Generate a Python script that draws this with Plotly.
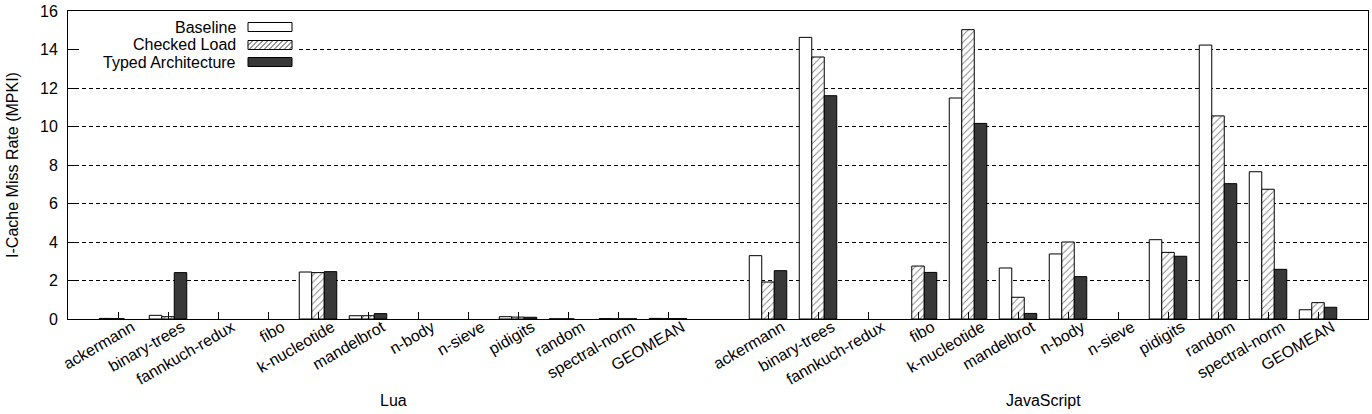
import plotly.graph_objects as go

benchmarks = ["ackermann", "binary-trees", "fannkuch-redux", "fibo", "k-nucleotide",
              "mandelbrot", "n-body", "n-sieve", "pidigits", "random", "spectral-norm", "GEOMEAN"]
groups = ["Lua", "JavaScript"]
series_names = ["Baseline", "Checked Load", "Typed Architecture"]

lua_baseline = [0.03, 0.19, 0.0, 0.0, 2.44, 0.17, 0.0, 0.0, 0.12, 0.01, 0.02, 0.03]
lua_checked = [0.02, 0.12, 0.0, 0.0, 2.41, 0.17, 0.0, 0.0, 0.10, 0.01, 0.01, 0.02]
lua_typed = [0.0, 2.41, 0.0, 0.0, 2.46, 0.28, 0.0, 0.0, 0.09, 0.0, 0.01, 0.02]

js_baseline = [3.29, 14.63, 0.0, 0.0, 11.48, 2.65, 3.38, 0.0, 4.12, 14.23, 7.65, 0.48]
js_checked = [1.92, 13.61, 0.0, 2.75, 15.03, 1.13, 4.00, 0.0, 3.46, 10.55, 6.74, 0.85]
js_typed = [2.51, 11.60, 0.0, 2.42, 10.16, 0.29, 2.20, 0.0, 3.26, 7.03, 2.58, 0.61]

y_ticks = [0, 2, 4, 6, 8, 10, 12, 14, 16]

# layout constants
FONT = "Liberation Sans, Arial, sans-serif"
FS = 16
W, H = 1372, 414
ML, MR, MT, MB = 68, 4, 11, 95
PW, PH = W - ML - MR, H - MT - MB

n = len(benchmarks)
lua_pos = [i + 1 for i in range(n)]
js_pos = [i + n + 2 for i in range(n)]
positions = lua_pos + js_pos
tick_text = benchmarks + benchmarks

values = {
    "Baseline": lua_baseline + js_baseline,
    "Checked Load": lua_checked + js_checked,
    "Typed Architecture": lua_typed + js_typed,
}
styles = {
    "Baseline": dict(color="white", line=dict(color="black", width=1)),
    "Checked Load": dict(color="white", line=dict(color="black", width=1),
                         pattern=dict(shape="/", fgcolor="black", bgcolor="white",
                                      size=5, solidity=0.18)),
    "Typed Architecture": dict(color="#383838", line=dict(color="black", width=1)),
}

fig = go.Figure()
for name in series_names:
    # zero-valued bars are not drawn at all (no outline on the axis)
    ys = [v if v > 0 else None for v in values[name]]
    fig.add_trace(go.Bar(x=positions, y=ys, name=name,
                         marker=styles[name], showlegend=False))

fig.update_layout(
    width=W, height=H,
    margin=dict(l=ML, r=MR, t=MT, b=MB, pad=0),
    paper_bgcolor="white", plot_bgcolor="white",
    barmode="group", bargap=0.25, bargroupgap=0,
    font=dict(family=FONT, size=FS, color="black"),
)
fig.update_xaxes(
    range=[0, 2 * n + 2], tickmode="array", tickvals=positions, ticktext=tick_text,
    tickangle=-30, ticks="inside", ticklen=7, tickcolor="black",
    ticklabelshift=14, ticklabelstandoff=-8,
    showgrid=False, zeroline=False, showline=True, linecolor="black", linewidth=1,
    mirror=True, tickfont=dict(size=FS),
)
fig.update_yaxes(
    range=[0, 16], tickmode="array", tickvals=y_ticks,
    ticks="inside", ticklen=8, tickcolor="black", ticklabelstandoff=6,
    showgrid=True, gridcolor="black", gridwidth=1, griddash="4px,3px",
    zeroline=False, showline=True, linecolor="black", linewidth=1, mirror=True,
    tickfont=dict(size=FS),
    title=dict(text="I-Cache Miss Rate (MPKI)", font=dict(size=FS), standoff=17),
)

# group labels
for label, pos in zip(groups, [lua_pos, js_pos]):
    fig.add_annotation(x=(pos[0] + pos[-1]) / 2, xref="x", y=(MT + PH - 400) / PH,
                       yref="paper", text=label, showarrow=False,
                       yanchor="middle", xanchor="center", font=dict(size=FS))


# manual legend (gnuplot-style: text left of sample)
def px(x):
    return (x - ML) / PW


def py(y):
    return (MT + PH - y) / PH


fig.add_shape(type="rect", xref="paper", yref="paper", x0=px(80), x1=px(298),
              y0=py(72), y1=py(17), fillcolor="white", line=dict(width=0), layer="above")

sx0, sx1 = 248, 292
rows = [27, 45, 62]
sh = 9
fills = ["white", "white", "#383838"]
for name, cy, fc in zip(series_names, rows, fills):
    fig.add_shape(type="rect", xref="paper", yref="paper", x0=px(sx0), x1=px(sx1),
                  y0=py(cy + sh / 2), y1=py(cy - sh / 2), fillcolor=fc,
                  line=dict(color="black", width=1), layer="above")
    fig.add_annotation(x=px(238), y=py(cy), xref="paper", yref="paper", text=name,
                       showarrow=False, xanchor="right", yanchor="middle",
                       font=dict(size=FS))

# hatch for the Checked Load sample
cy = rows[1]
top, bot = cy - sh / 2, cy + sh / 2
path = ""
step = 5
x = sx0 - sh
while x < sx1:
    xa, ya, xb, yb = x, bot, x + sh, top
    if xa < sx0:
        ya = bot - (sx0 - xa)
        xa = sx0
    if xb > sx1:
        yb = top + (xb - sx1)
        xb = sx1
    if xb > xa:
        path += f"M{px(xa)},{py(ya)} L{px(xb)},{py(yb)} "
    x += step
fig.add_shape(type="path", xref="paper", yref="paper", path=path,
              line=dict(color="black", width=0.8), layer="above")

fig.write_html("out.html")
